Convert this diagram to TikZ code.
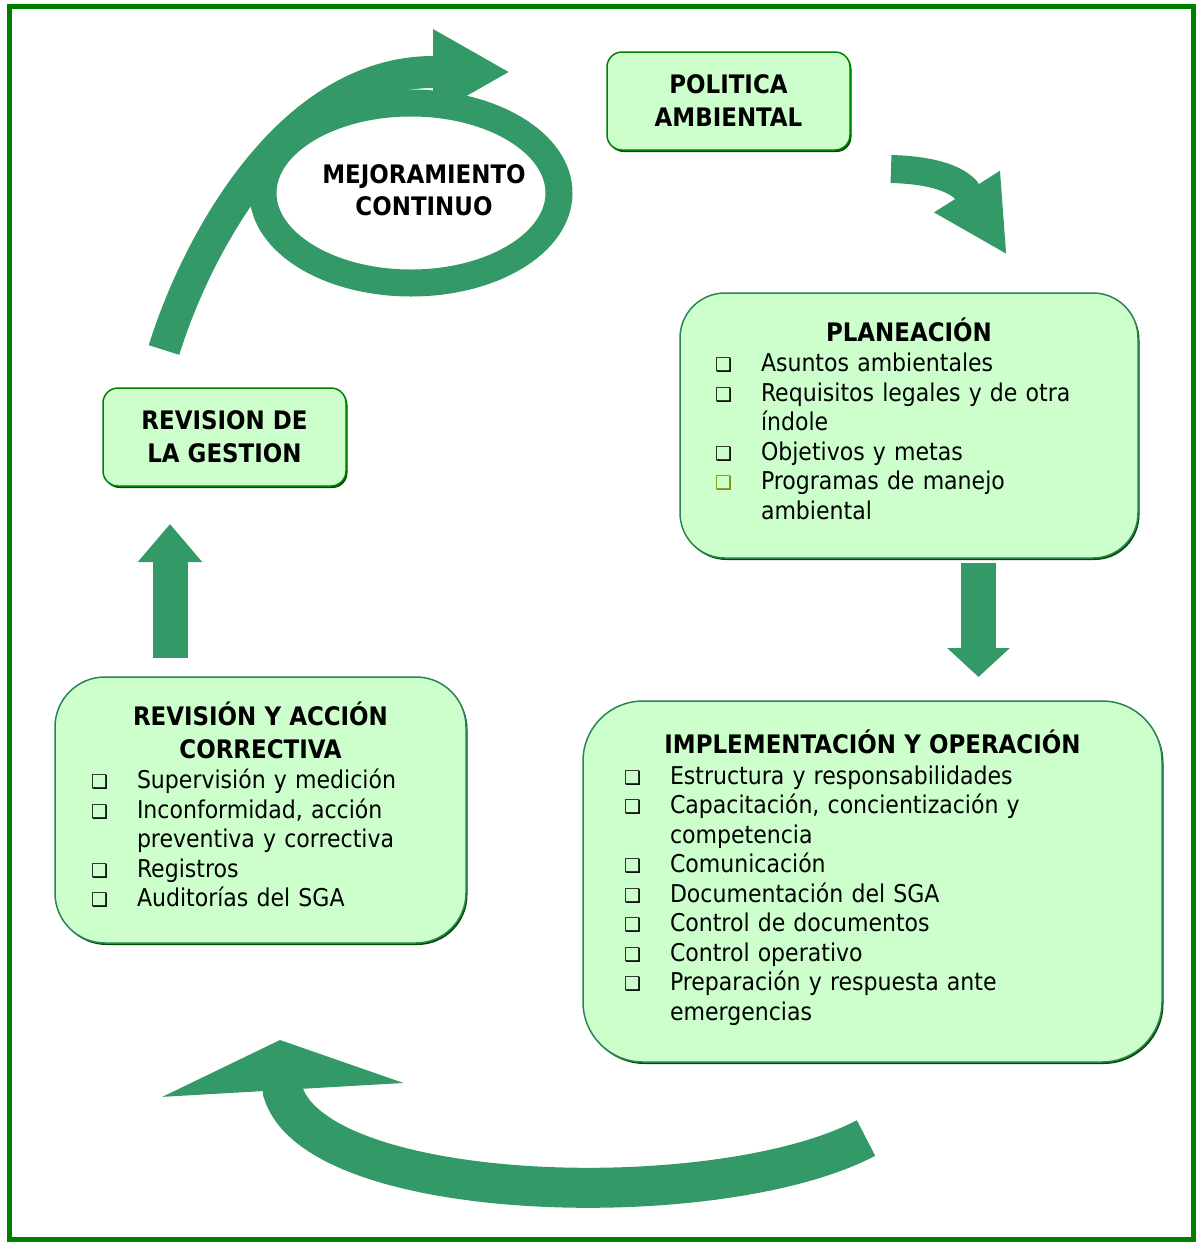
\documentclass[tikz,border=0pt]{standalone}
\usepackage{fontspec}
\setmainfont{DejaVu Sans Condensed}
\newfontfamily\symfont{DejaVu Sans}
\usepackage{tikz}
\usetikzlibrary{arrows.meta, positioning, shadows}
\usepackage{xcolor}

\definecolor{boxfill}{RGB}{204,255,204}
\definecolor{boxedge}{RGB}{0,128,0}
\definecolor{flowgreen}{RGB}{51,153,102}
\definecolor{olivebul}{RGB}{128,128,0}

\newcommand{\boxtitle}[1]{{\centering\fontsize{25.5pt}{32.5pt}\selectfont\bfseries #1\par}\vspace{1pt}}
\newcommand{\bul}[1][black]{\par\hangindent=46pt\hangafter=1\noindent\makebox[46pt][l]{\textcolor{#1}{\symfont\fontsize{19pt}{19pt}\selectfont ❑}}}

\begin{document}
\begin{tikzpicture}[x=1pt, y=-1pt,
    bigbox/.style = {rectangle, draw=flowgreen!85!black, fill=boxfill, line width=1.5pt, align=left, font=\fontsize{24.5pt}{29.5pt}\selectfont, inner ysep=0pt, drop shadow={shadow xshift=1.5pt, shadow yshift=-2pt, fill=boxedge!60!black, opacity=1}},
    smallbox/.style = {rectangle, draw=boxedge, fill=boxfill, line width=1.5pt, rounded corners=15pt, align=center, font=\fontsize{25.5pt}{33pt}\selectfont\bfseries, minimum width=243pt, minimum height=98pt, drop shadow={shadow xshift=1.5pt, shadow yshift=-2pt, fill=boxedge!60!black, opacity=1}},
    flow/.style = {draw=flowgreen, line width=#1}
]
\useasboundingbox (0,0) rectangle (1196,1243);
\draw [boxedge, line width=5pt] (9,6.5) rectangle (1193,1239.5);

\node (pol) [smallbox] at (728.5,101) {POLITICA\\AMBIENTAL};
\node (gest) [smallbox] at (224.5,437) {REVISION DE\\LA GESTION};
\node (mejora) [align=center, font=\fontsize{25.5pt}{32pt}\selectfont\bfseries] at (424,190) {MEJORAMIENTO\\CONTINUO};

\node (plan) [bigbox, rounded corners=45pt, minimum width=458pt, minimum height=265pt, text width=388pt, inner xsep=35pt] at (909,425.5) {%
  \boxtitle{PLANEACIÓN}
  \bul Asuntos ambientales
  \bul Requisitos legales y de otra\newline índole
  \bul Objetivos y metas
  \bul[olivebul]Programas de manejo\newline ambiental\par\kern14pt};

\node (impl) [bigbox, rounded corners=60pt, minimum width=579pt, minimum height=361pt, text width=497pt, inner xsep=41pt] at (872.5,881.5) {%
  \boxtitle{IMPLEMENTACIÓN Y OPERACIÓN}
  \bul Estructura y responsabilidades
  \bul Capacitación, concientización y\newline competencia
  \bul Comunicación
  \bul Documentación del SGA
  \bul Control de documentos
  \bul Control operativo
  \bul Preparación y respuesta ante\newline emergencias\par\kern8pt};

\node (rev) [bigbox, rounded corners=50pt, minimum width=411pt, minimum height=266pt, text width=339pt, inner xsep=36pt] at (260.5,810) {%
  \boxtitle{REVISIÓN Y ACCIÓN\\CORRECTIVA}
  \bul Supervisión y medición
  \bul Inconformidad, acción\newline preventiva y correctiva
  \bul Registros
  \bul Auditorías del SGA\par\kern10pt};

% arrow ends
\coordinate (polout) at (891,169);
\coordinate (planin) at (1007,255);
\coordinate (planout) at (978.5,563);
\coordinate (implin) at (978.5,677);
\coordinate (implout) at (866,1138);
\coordinate (revin) at (280,1040);
\coordinate (revout) at (170,658);
\coordinate (gestin) at (170,524);
\coordinate (gestout) at (164,350);
\coordinate (polin) at (510,72);

\draw [flow=28pt, -{Triangle[length=75pt, width=72pt]}] (polout) .. controls (930,170) and (955,178) .. (966,190) -- (planin);
\draw [flow=35pt, -{Triangle[length=29pt, width=61pt]}] (planout) -- (implin);
\draw [flow=40pt, -{Triangle[length=50pt, width=240pt]}] (implout) .. controls (720,1215) and (318,1205) .. (283,1092) -- (revin);
\draw [flow=35pt, -{Triangle[length=38pt, width=62pt]}] (revout) -- (gestin);

% loop round the continuous improvement text
\draw [flow=27pt] (mejora.center) ++(-13,3) ellipse [x radius=148pt, y radius=90pt];
\draw [flow=32pt, -{Triangle[length=77pt, width=80pt]}] (gestout) .. controls (195,250) and (285,75) .. (430,72) -- (polin);

\end{tikzpicture}
\end{document}
